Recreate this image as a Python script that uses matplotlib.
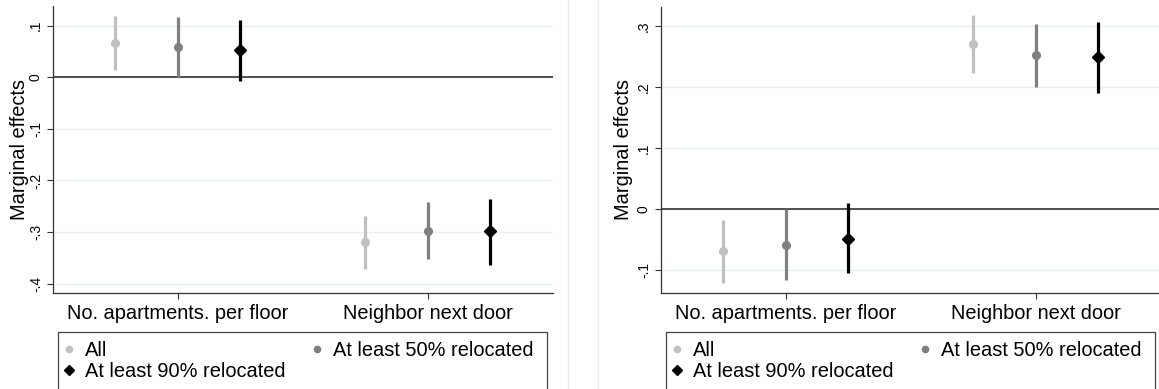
import numpy as np
import matplotlib.pyplot as plt
from matplotlib.lines import Line2D
from matplotlib.patches import Rectangle

plt.rcParams['font.family'] = ['Liberation Sans', 'DejaVu Sans']

categories = ['No. apartments. per floor', 'Neighbor next door']
series = ['All', 'At least 50% relocated', 'At least 90% relocated']
colors = ['#c0c0c0', '#808080', '#000000']
markers = ['o', 'o', 'D']

# left panel: point estimates and 95% CI (rows = series, cols = categories)
left_est = [[0.067, -0.319], [0.059, -0.297], [0.052, -0.298]]
left_lo = [[0.014, -0.371], [0.000, -0.353], [-0.007, -0.363]]
left_hi = [[0.119, -0.268], [0.117, -0.242], [0.111, -0.235]]
left_yticks = [-0.4, -0.3, -0.2, -0.1, 0, 0.1]
left_ylabels = ['-.4', '-.3', '-.2', '-.1', '0', '.1']

# right panel
right_est = [[-0.069, 0.271], [-0.058, 0.253], [-0.048, 0.249]]
right_lo = [[-0.120, 0.223], [-0.115, 0.201], [-0.105, 0.190]]
right_hi = [[-0.017, 0.319], [0.000, 0.304], [0.010, 0.307]]
right_yticks = [-0.1, 0, 0.1, 0.2, 0.3]
right_ylabels = ['-.1', '0', '.1', '.2', '.3']

W, H = 1159, 389
fig = plt.figure(figsize=(W / 100, H / 100), dpi=100)


def panel(x0px, ylim, est, lo, hi, yticks, ylabels, ytop_px, legx_px, ylab_x):
    ax = fig.add_axes([x0px / W, 1 - 293 / H, 500 / W, (293 - ytop_px) / H])
    ax.set_xlim(0.5, 2.5)
    ax.set_ylim(*ylim)
    for sp in ['top', 'right']:
        ax.spines[sp].set_visible(False)
    for sp in ['left', 'bottom']:
        ax.spines[sp].set_color('#333333')
        ax.spines[sp].set_linewidth(0.9)
    ax.set_yticks(yticks)
    ax.set_yticklabels(ylabels, rotation=90, va='center', fontsize=10)
    ax.set_xticks([1, 2])
    ax.set_xticklabels(categories, fontsize=14.4)
    ax.tick_params(axis='y', length=4.5, width=0.8, color='#333333', pad=2.5)
    ax.tick_params(axis='x', length=4, width=0.8, color='#333333', pad=4)
    ax.grid(axis='y', color='#e8eff0', lw=1)
    ax.set_axisbelow(True)
    ax.axhline(0, color='#333333', lw=1.2, zorder=2)
    ax.set_ylabel('Marginal effects', fontsize=14.4)
    ax.yaxis.set_label_coords((ylab_x - x0px) / 500, 0.5)
    xpos = np.arange(1, len(categories) + 1)
    offs = [-0.25, 0, 0.25]
    for i in range(len(series)):
        x = xpos + offs[i]
        e = np.array(est[i])
        ax.vlines(x, lo[i], hi[i], color=colors[i], lw=2.3, zorder=3)
        ax.plot(x, e, ls='none', marker=markers[i], color=colors[i],
                ms=5.5 if markers[i] == 'o' else 6, zorder=4)
    handles = [Line2D([], [], ls='none', marker=markers[i], color=colors[i],
                      ms=4.5 if markers[i] == 'o' else 5.5) for i in range(3)]
    order = [0, 2, 1]
    fig.add_artist(Rectangle((legx_px / W, -0.05), 489 / W, 1 - 331.7 / H + 0.05,
                             transform=fig.transFigure, fill=False,
                             ec='#444444', lw=0.9))
    fig.legend([handles[k] for k in order], [series[k] for k in order],
               loc='upper left', bbox_to_anchor=(legx_px / W + 0.004, 1 - 341 / H),
               ncol=2, frameon=False, fontsize=14.4, handlelength=0.6,
               handletextpad=0.5, columnspacing=1.3, labelspacing=0.1,
               borderpad=0, borderaxespad=0)
    return ax


panel(52.7, (-0.418, 0.138), left_est, left_lo, left_hi,
      left_yticks, left_ylabels, 6, 58.3, 29.5)
panel(660.7, (-0.137, 0.332), right_est, right_lo, right_hi,
      right_yticks, right_ylabels, 6.7, 666, 633)

for xp in [567.7, 598.3]:
    fig.add_artist(Line2D([xp / W, xp / W], [0, 1], transform=fig.transFigure,
                          color='#e6eded', lw=1))

fig.savefig('out.png', dpi=100)
